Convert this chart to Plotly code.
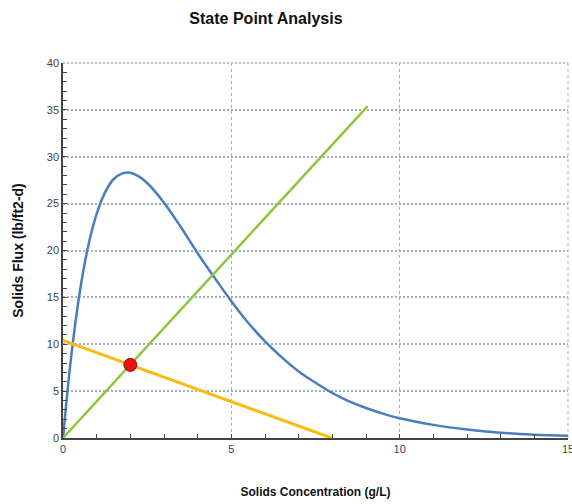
import plotly.graph_objects as go

# Settling flux curve
flux_x = [0, 0.1, 0.25, 0.5, 0.75, 1.0, 1.25, 1.5, 1.75, 2.0, 2.25, 2.5, 3.0, 3.5, 4.0, 4.5,
          5.0, 5.5, 6.0, 6.5, 7.0, 7.5, 8.0, 8.5, 9.0, 9.5, 10, 11, 12, 13, 14, 15]
flux_y = [0, 3.8, 8.9, 15.6, 20.5, 23.9, 26.2, 27.6, 28.2, 28.3, 27.9, 27.2, 25.1, 22.5, 19.7, 17.1,
          14.6, 12.3, 10.3, 8.6, 7.1, 5.9, 4.8, 3.9, 3.2, 2.6, 2.1, 1.4, 0.9, 0.56, 0.36, 0.23]

# Overflow (green) line
over_x = [0, 9.05]
over_y = [0, 35.4]

# Underflow (orange) line
under_x = [0, 7.98]
under_y = [10.4, 0]

# State point
sp_x = [2.0]
sp_y = [7.8]

GRID = "#9bb1c8"

fig = go.Figure()
fig.add_trace(go.Scatter(x=flux_x, y=flux_y, mode="lines", line=dict(color="#4a7dbd", width=2.5, shape="spline"),
                         hoverinfo="skip"))
fig.add_trace(go.Scatter(x=over_x, y=over_y, mode="lines", line=dict(color="#8cc63f", width=2.5)))
fig.add_trace(go.Scatter(x=under_x, y=under_y, mode="lines", line=dict(color="#fdbb12", width=3)))
fig.add_trace(go.Scatter(x=sp_x, y=sp_y, mode="markers",
                         marker=dict(color="#ee1111", size=13, line=dict(color="#8b1010", width=1))))

# top and right frame (dotted / dashed like the grid)
fig.add_shape(type="line", xref="paper", yref="paper", x0=0, x1=1, y0=1, y1=1,
              line=dict(color=GRID, width=1.5, dash="2px,2px"), layer="below")
fig.add_shape(type="line", xref="paper", yref="paper", x0=1, x1=1, y0=0, y1=1,
              line=dict(color=GRID, width=1, dash="3px,3px"), layer="below")

font_narrow = "Liberation Sans Narrow, Arial Narrow, Liberation Sans, Arial"
fig.update_layout(
    width=572, height=504,
    margin=dict(l=63, r=4, t=63, b=66),
    paper_bgcolor="white", plot_bgcolor="white",
    showlegend=False,
    title=dict(text="<b>State Point Analysis</b>", x=0.465, xanchor="center", y=0.963, yanchor="middle",
               font=dict(family=font_narrow, size=16, color="#111111")),
    xaxis=dict(range=[0, 15], dtick=5, tick0=0, automargin=False,
               showgrid=True, gridcolor=GRID, griddash="3px,3px", gridwidth=1,
               showline=True, linecolor="#444444", linewidth=1.5,
               ticks="inside", ticklen=4, tickcolor="#444444",
               minor=dict(dtick=1, ticks="inside", ticklen=4, tickcolor="#444444", showgrid=False),
               zeroline=False, ticklabeloverflow="allow",
               tickfont=dict(family=font_narrow, size=11, color="#444444"),
               title=dict(text="<b>Solids Concentration (g/L)</b>", standoff=34,
                          font=dict(family=font_narrow, size=12, color="#111111"))),
    yaxis=dict(range=[0, 40], dtick=5, tick0=0, automargin=False,
               showgrid=True, gridcolor=GRID, griddash="2px,2px", gridwidth=1.5,
               showline=True, linecolor="#444444", linewidth=1.5,
               ticks="inside", ticklen=4, tickcolor="#444444",
               minor=dict(dtick=1, ticks="inside", ticklen=4, tickcolor="#444444", showgrid=False),
               zeroline=False,
               tickfont=dict(family=font_narrow, size=11, color="#444444"),
               title=dict(text="<b>Solids Flux (lb/ft2-d)</b>", standoff=20,
                          font=dict(family="Liberation Sans, Arial", size=14, color="#111111"))),
)

fig.write_html("out.html")
